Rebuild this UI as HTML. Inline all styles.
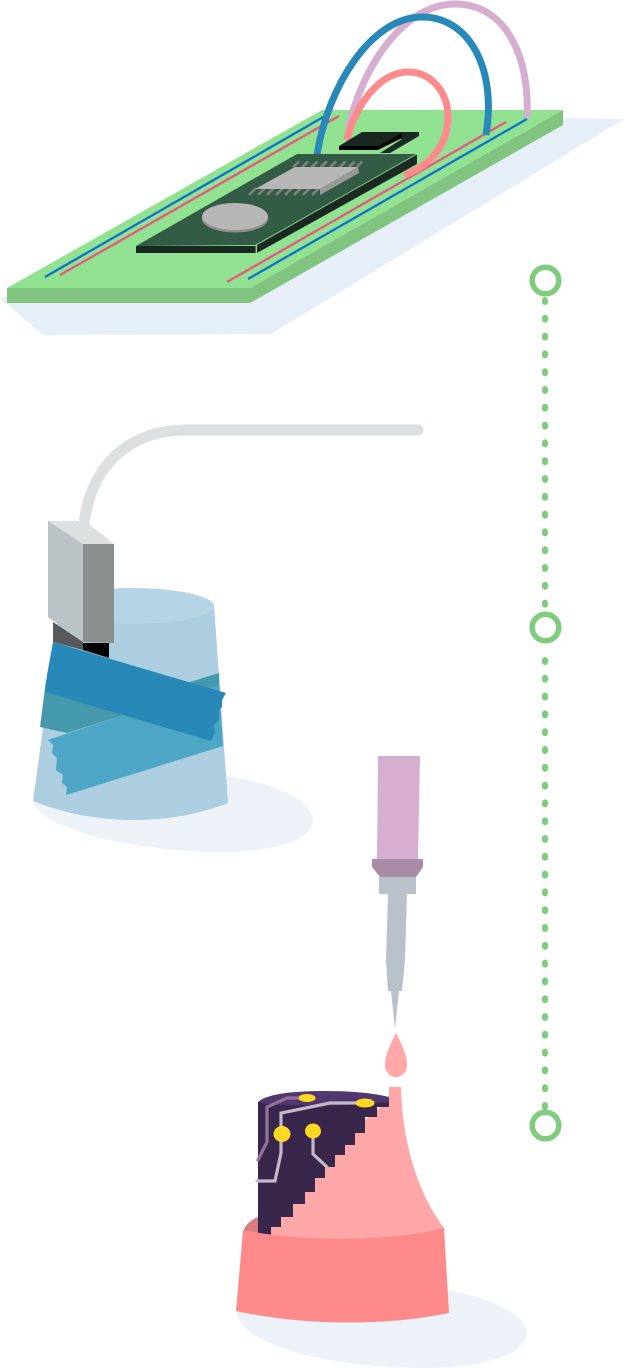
<!DOCTYPE html>
<html><head><meta charset="utf-8"><title>Diagram</title>
<style>html,body{margin:0;padding:0;background:#fff}svg{display:block}</style></head>
<body>
<svg xmlns="http://www.w3.org/2000/svg" width="624" height="1368" viewBox="0 0 624 1368">
<!-- Board -->
<polygon points="1,299 43,335 271,334 624,119 560,118 250,296 7,296" fill="#e6eef8"/>
<polygon points="7,288 250,288 563,110 322,110" fill="#90e290"/>
<polygon points="7,288 250,288 250,303 7,303" fill="#80c480"/>
<polygon points="250,288 563,110 563,125 250,303" fill="#80c480"/>
<g fill="none" stroke-width="2.3">
<line x1="45" y1="277" x2="325" y2="116" stroke="#0f70d0"/>
<line x1="60" y1="275" x2="339" y2="116" stroke="#e8577f"/>
<line x1="227" y1="282" x2="506" y2="122" stroke="#e8577f"/>
<line x1="248" y1="279" x2="527" y2="119" stroke="#0f70d0"/>
</g>
<!-- Cables behind -->
<path d="M348,130 C362,65 405,4 455,4 C505,4 530,55 527,118" fill="none" stroke="#d6aed0" stroke-width="7"/>
<path d="M317,155 C328,85 372,17 422,17 C470,17 497,70 486,135" fill="none" stroke="#2889b8" stroke-width="7"/>
<path d="M347,140 C355,105 380,72 408,72 C432,72 448,93 448,117 C448,145 430,165 407,174" fill="none" stroke="#ff8a8c" stroke-width="7"/>
<circle cx="407" cy="174" r="3.5" fill="#ff8a8c"/>
<!-- Small chip -->
<polygon points="362,132 419,132 419,136 390,153 380,153 402,139" fill="#1a2a22"/>
<polygon points="339,146 362,132 402,133 378,146" fill="#182820"/>
<polygon points="339,146 378,146 402,133 402,138 378,150 339,150" fill="#000"/>
<!-- Main PCB -->
<polygon points="297,154 417,154 256,245 136,246" fill="#335c46"/>
<polygon points="136,246 256,246 256,253 136,253" fill="#1a2a22"/>
<polygon points="257,245 417,154 417,164 257,253" fill="#1a2a22"/>
<polyline points="256,253 256,245 417,154" fill="none" stroke="#90e290" stroke-width=".8"/>
<!-- Pins -->
<g stroke="#808080" stroke-width="2.6">
<line x1="293" y1="167" x2="299" y2="161.5"/><line x1="302.3" y1="167" x2="308.3" y2="161.5"/><line x1="311.6" y1="167" x2="317.6" y2="161.5"/><line x1="320.9" y1="167" x2="326.9" y2="161.5"/><line x1="330.2" y1="167" x2="336.2" y2="161.5"/><line x1="339.5" y1="167" x2="345.5" y2="161.5"/><line x1="348.8" y1="167" x2="354.8" y2="161.5"/><line x1="357" y1="167" x2="362" y2="161.5"/>
<line x1="249" y1="195" x2="256" y2="188"/><line x1="258" y1="195" x2="265" y2="188"/><line x1="267" y1="195" x2="274" y2="188"/><line x1="276" y1="195" x2="283" y2="188"/><line x1="285" y1="195" x2="292" y2="188"/><line x1="294" y1="195" x2="301" y2="188"/><line x1="303" y1="195" x2="310" y2="188"/><line x1="312" y1="195" x2="319" y2="188"/>
</g>
<polygon points="295,167 358,167 320,189 255,189" fill="#b6b6b6"/>
<polygon points="358,167 359,173 320,195 320,189" fill="#999"/>
<!-- Coin -->
<ellipse cx="235" cy="219" rx="33" ry="13.5" fill="#8f8f8f"/>
<ellipse cx="235" cy="216.5" rx="33" ry="13.5" fill="#b6b6b6"/>
<!-- Green dotted line -->
<g fill="none" stroke="#80cc7e">
<line x1="545" y1="300" x2="545" y2="610" stroke-width="6" stroke-linecap="round" stroke-dasharray="2 15.8"/>
<line x1="545" y1="660" x2="545" y2="1108" stroke-width="6" stroke-linecap="round" stroke-dasharray="2 15.8"/>
</g>
<g fill="#fff" stroke="#80cc7e" stroke-width="5.5">
<circle cx="545.5" cy="280.5" r="13.3"/>
<circle cx="545.5" cy="627.5" r="13.3"/>
<circle cx="545.5" cy="1125.5" r="13.3"/>
</g>
<!-- Gray cable -->
<path d="M84,524 C90,470 125,430 187,430 L418,430" fill="none" stroke="#dde0e0" stroke-width="11" stroke-linecap="round"/>
<!-- Cup -->
<path d="M226,776 C270,782 313,800 313,820 C313,838 280,852 220,852 C140,852 40,830 33,801 Z" fill="#edf2f9"/>
<path d="M33,801 C95,826 170,826 228,803 L214,605 L60,606 L55,640 Z" fill="#adcde0"/>
<ellipse cx="131" cy="606" rx="83" ry="18" fill="#b5d5e6"/>
<!-- Block -->
<polygon points="53,622 83,642 83,650 53,642" fill="#58595c"/>
<polygon points="83,643 109,643 109,658 83,650" fill="#000"/>
<polygon points="48,521 85,521 114,544 83,544" fill="#dce0e0"/>
<polygon points="48,521 83,544 83,642 48,617" fill="#bbc3c6"/>
<polygon points="83,544 114,544 114,643 83,642" fill="#898f8f"/>
<!-- Tape -->
<polygon points="190,682 219,673 220,700 120,716 67,733 40,727 46,680" fill="#4599ad"/>
<polygon points="48,740 120,716 219,685 223,746 66,795 67,787 62,783 63,775 56,770 57,758 52,753 53,745" fill="#4da6c6"/>
<polygon points="53,642 226,693 222,700 222,707 219,710 219,720 214,725 215,733 211,741 45,692 47,675" fill="#2889b8"/>
<!-- Iron -->
<polygon points="378,756 420,756 418,859 377,859" fill="#d6aed0"/>
<polygon points="372,859 423,859 423,867 416,877 380,877 372,867" fill="#a98ba6"/>
<polygon points="379,877 416,877 416,894 379,894" fill="#b9c1ca"/>
<polygon points="388,894 407,894 405,960 402,991 388,991 386,960" fill="#b9c1ca"/>
<polygon points="391,991 399,991 395,1029" fill="#b9c1ca"/>
<path d="M396,1033 C390,1045 385,1055 385,1065 C385,1072 390,1077 396,1077 C402,1077 407,1072 407,1065 C407,1055 402,1045 396,1033Z" fill="#ffa7a9"/>
<!-- Base shadow -->
<path d="M237,1312 C240,1345 330,1368 425,1368 C490,1368 527,1352 527,1333 C527,1315 490,1298 448,1290 Z" fill="#edf2f9"/>
<path d="M243,1232 Q246,1222 258,1217 L258,1236Z" fill="#d97d7f"/>
<!-- Flame body -->
<path d="M389,1087 L401,1087 C402,1130 412,1185 444,1228 L444,1240 L262,1240 L262,1205 L389,1100 Z" fill="#ffa7a9"/>
<!-- Dark stair chip -->
<polygon points="258,1102 389,1102 389,1107 377,1107 377,1117 365,1117 365,1133 355,1133 355,1145 345,1145 345,1155 335,1155 335,1167 325,1167 325,1178 315,1178 315,1192 305,1192 305,1204 293,1204 293,1217 281,1217 281,1227 271,1227 271,1236 258,1234" fill="#38274b"/>
<path d="M258,1102 Q270,1091 325,1091 Q365,1091 389,1097 L389,1102 Q340,1106 320,1105 Q270,1106 258,1102Z" fill="#53376f"/>
<g fill="none" stroke-width="3.2" stroke-linecap="round">
<polyline points="258,1160 267,1142 267,1107 287,1098 307,1098" stroke="#8f7199"/>
<polyline points="257,1181 275,1181 281,1153 281,1113 330,1103 363,1103" stroke="#c5b8cc"/>
<polyline points="313,1133 313,1154 327,1167" stroke="#c5b8cc"/>
</g>
<g fill="#ffd824">
<ellipse cx="307" cy="1098" rx="8.5" ry="4"/>
<ellipse cx="365" cy="1103" rx="9.5" ry="4.5"/>
<ellipse cx="282" cy="1134" rx="8.5" ry="8"/>
<ellipse cx="313" cy="1131" rx="8" ry="7.5"/>
</g>
<!-- Base -->
<path d="M243,1230 C300,1242 390,1242 444,1228 L449,1313 C380,1327 300,1325 236,1311 Z" fill="#ff8a8c"/>
</svg>
</body></html>
